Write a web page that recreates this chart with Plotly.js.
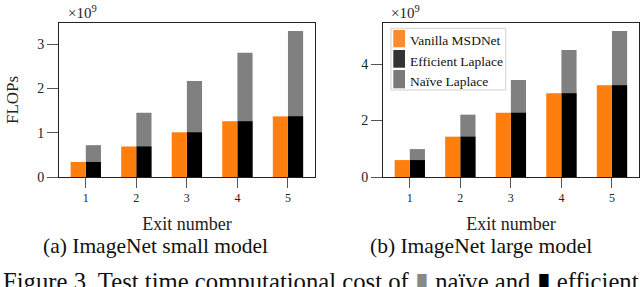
<!DOCTYPE html>
<html>
<head>
<meta charset="utf-8">
<script src="https://cdn.plot.ly/plotly-3.0.1.min.js"></script>
<style>html,body{margin:0;padding:0;background:#fff;}#chart{width:640px;height:287px;}</style>
</head>
<body>
<div id="chart"></div>
<script>
// Data
const exits = [1, 2, 3, 4, 5];
const smallVanilla = [0.34, 0.69, 1.01, 1.26, 1.37];
const smallEfficient = [0.34, 0.69, 1.01, 1.26, 1.37];
const smallNaive = [0.72, 1.45, 2.17, 2.81, 3.30];
const largeVanilla = [0.60, 1.43, 2.28, 2.97, 3.25];
const largeEfficient = [0.60, 1.43, 2.28, 2.97, 3.25];
const largeNaive = [0.99, 2.21, 3.44, 4.50, 5.18];
const seriesNames = ['Vanilla MSDNet', 'Efficient Laplace', 'Naïve Laplace'];
const tickLabels = ['1', '2', '3', '4', '5'];

const ORANGE = '#ff7f0e', BLACK = '#000000', GRAY = '#808080';
const W = 640, H = 287;
const px = v => v / W;
const py = v => 1 - v / H;
const SERIF = "'Liberation Serif', 'Times New Roman', serif";

function bars(xa, ya, naive, eff, van) {
  return [
    {type: 'bar', x: exits, y: naive, name: seriesNames[2], xaxis: xa, yaxis: ya,
     offset: 0, width: 0.3, marker: {color: GRAY, line: {width: 0}}, showlegend: false},
    {type: 'bar', x: exits, y: eff, name: seriesNames[1], xaxis: xa, yaxis: ya,
     offset: 0, width: 0.3, marker: {color: BLACK, line: {width: 0}}, showlegend: false},
    {type: 'bar', x: exits, y: van, name: seriesNames[0], xaxis: xa, yaxis: ya,
     offset: -0.3, width: 0.3, marker: {color: ORANGE, line: {width: 0}}, showlegend: false}
  ];
}

const data = [].concat(
  bars('x', 'y', smallNaive, smallEfficient, smallVanilla),
  bars('x2', 'y2', largeNaive, largeEfficient, largeVanilla)
);

const xCommon = {
  range: [0.47, 5.535], tickvals: exits, ticktext: tickLabels,
  ticks: 'outside', ticklen: 10, tickcolor: '#555', tickwidth: 1,
  showline: true, mirror: true, linecolor: '#222', linewidth: 1,
  showgrid: false, zeroline: false,
  tickfont: {family: SERIF, size: 12, color: '#222'},
  title: {text: 'Exit number', standoff: 12, font: {family: SERIF, size: 18, color: '#222'}}
};
const yCommon = {
  ticks: 'outside', ticklen: 11, tickcolor: '#555', tickwidth: 1,
  showline: true, mirror: true, linecolor: '#222', linewidth: 1,
  showgrid: false, zeroline: false,
  tickfont: {family: SERIF, size: 14, color: '#222'}
};

const legendBox = {x0: 391, x1: 505.7, y0: 28.3, y1: 90};
const swatches = [
  {y0: 30, y1: 47.3, color: '#fd8a2c', label: seriesNames[0], ty: 40.7},
  {y0: 50, y1: 67.7, color: '#333333', label: seriesNames[1], ty: 61.7},
  {y0: 70, y1: 88.3, color: '#7a7a7a', label: seriesNames[2], ty: 81}
];

const shapes = [{
  type: 'rect', xref: 'paper', yref: 'paper',
  x0: px(legendBox.x0), x1: px(legendBox.x1), y0: py(legendBox.y1), y1: py(legendBox.y0),
  line: {color: '#d0d0d0', width: 1}, fillcolor: 'rgba(255,255,255,0.9)'
}].concat(swatches.map(s => ({
  type: 'rect', xref: 'paper', yref: 'paper',
  x0: px(393.3), x1: px(405), y0: py(s.y1), y1: py(s.y0),
  line: {width: 0}, fillcolor: s.color
})));

const annotations = swatches.map(s => ({
  xref: 'paper', yref: 'paper', x: px(407.5), y: py(s.ty), xanchor: 'left', yanchor: 'middle',
  text: s.label, showarrow: false, font: {family: SERIF, size: 13.5, color: '#111'}
})).concat([
  {xref: 'paper', yref: 'paper', x: px(66), y: py(23), xanchor: 'left', yanchor: 'bottom',
   text: '×10<sup>9</sup>', showarrow: false, font: {family: SERIF, size: 15, color: '#222'}},
  {xref: 'paper', yref: 'paper', x: px(389), y: py(23), xanchor: 'left', yanchor: 'bottom',
   text: '×10<sup>9</sup>', showarrow: false, font: {family: SERIF, size: 15, color: '#222'}},
  {xref: 'paper', yref: 'paper', x: px(155), y: py(246), xanchor: 'center', yanchor: 'middle',
   text: '(a) ImageNet small model', showarrow: false, font: {family: SERIF, size: 21.5, color: '#111'}},
  {xref: 'paper', yref: 'paper', x: px(481), y: py(246), xanchor: 'center', yanchor: 'middle',
   text: '(b) ImageNet large model', showarrow: false, font: {family: SERIF, size: 21.5, color: '#111'}},
  {xref: 'paper', yref: 'paper', x: px(1), y: py(281), xanchor: 'left', yanchor: 'middle',
   text: 'Figure 3. Test time computational cost of <span style="color:#888">▮</span> naïve and <span style="color:#000">▮</span> efficient',
   showarrow: false, font: {family: SERIF, size: 24.7, color: '#111'}}
]);

const layout = {
  width: W, height: H,
  margin: {l: 0, r: 0, t: 0, b: 0},
  paper_bgcolor: '#fff', plot_bgcolor: '#fff',
  barmode: 'overlay', showlegend: false,
  xaxis: Object.assign({}, xCommon, {domain: [px(59), px(315)], anchor: 'y'}),
  yaxis: Object.assign({}, yCommon, {domain: [py(177), py(23)], range: [0, 3.48], tickvals: [0, 1, 2, 3], anchor: 'x',
    title: {text: 'FLOPs', standoff: 14, font: {family: SERIF, size: 17, color: '#222'}}}),
  xaxis2: Object.assign({}, xCommon, {domain: [px(383), px(639)], anchor: 'y2'}),
  yaxis2: Object.assign({}, yCommon, {domain: [py(177), py(23)], range: [0, 5.46], tickvals: [0, 2, 4], anchor: 'x2'}),
  shapes: shapes,
  annotations: annotations
};

Plotly.newPlot('chart', data, layout, {displayModeBar: false, staticPlot: true});
</script>
</body>
</html>
